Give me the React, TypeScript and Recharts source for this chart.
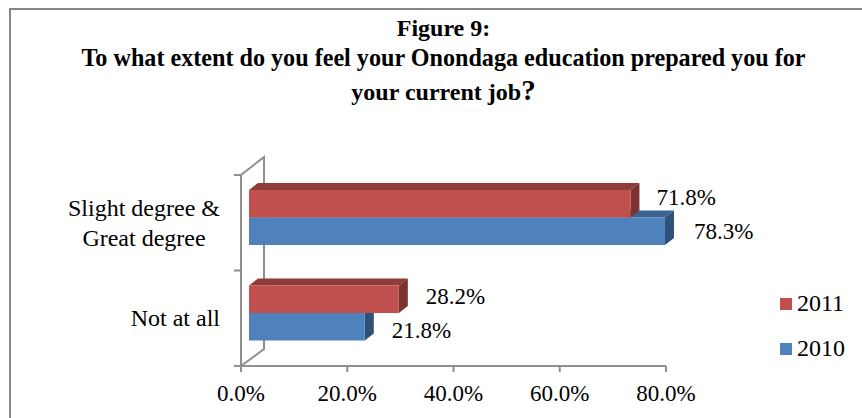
import { BarChart, Bar, XAxis, YAxis, Legend, LabelList } from 'recharts'

const CATEGORIES = ['Slight degree & Great degree', 'Not at all']
const VALUES_2011 = [71.8, 28.2]
const VALUES_2010 = [78.3, 21.8]
const X_TICKS = [0, 20, 40, 60, 80]

const chartData = CATEGORIES.map((name, i) => ({
  name,
  y2011: VALUES_2011[i],
  y2010: VALUES_2010[i],
}))

const FONT = '"Liberation Serif", "Times New Roman", serif'
const AXIS_GREY = '#8f8f8f'
const RED = { front: '#c0504d', top: '#8f3b39', side: '#7c3230' }
const BLUE = { front: '#4f81bd', top: '#3a6391', side: '#2f5179' }
const BAR_SIZE = 27.5

// how far the 3D box sits from the axis, and its depth
const SHIFT_X = 8
const SHIFT_Y = -5
const DEPTH_X = 9
const DEPTH_Y = 7

// 2010 has to paint first so 2011 covers its top face, so the two swap slots
function Box3D({ x, y, width, height, colors, slot }: any) {
  const l = x + SHIFT_X
  const t = y + SHIFT_Y + slot
  const r = l + width
  const b = t + height
  return (
    <g>
      <polygon
        points={`${l},${t} ${l + DEPTH_X},${t - DEPTH_Y} ${r + DEPTH_X},${t - DEPTH_Y} ${r},${t}`}
        fill={colors.top}
      />
      <polygon
        points={`${r},${t} ${r + DEPTH_X},${t - DEPTH_Y} ${r + DEPTH_X},${b - DEPTH_Y} ${r},${b}`}
        fill={colors.side}
      />
      <rect x={l} y={t} width={width} height={height} fill={colors.front} />
    </g>
  )
}

function ValueLabel({ x, y, width, height, value, nudge, index, slot }: any) {
  return (
    <text
      x={x + width + SHIFT_X + DEPTH_X + nudge[index][0]}
      y={y + height / 2 + SHIFT_Y + slot + nudge[index][1]}
      fontFamily={FONT}
      fontSize={23}
      fill="#000"
      dominantBaseline="central"
    >
      {`${value.toFixed(1)}%`}
    </text>
  )
}

function CategoryTick({ x, y, payload }: any) {
  const label: string = payload.value
  if (label.length < 16) {
    return (
      <text x={x} y={y} textAnchor="end" dominantBaseline="central" fontFamily={FONT} fontSize={24}>
        {label}
      </text>
    )
  }
  return (
    <text textAnchor="middle" fontFamily={FONT} fontSize={24}>
      <tspan x={x - 76} y={y - 15} dominantBaseline="central">
        Slight degree &amp;
      </tspan>
      <tspan x={x - 76} y={y + 15} dominantBaseline="central">
        Great degree
      </tspan>
    </text>
  )
}

function LegendList({ payload }: any) {
  const items = [...(payload ?? [])].sort((a, b) => Number(b.value) - Number(a.value))
  return (
    <div style={{ fontFamily: FONT, fontSize: 24, color: '#000' }}>
      {items.map((item: any) => (
        <div key={item.value} style={{ display: 'flex', alignItems: 'center', height: 45 }}>
          <span style={{ width: 12, height: 12, background: item.color, marginRight: 5 }} />
          {item.value}
        </div>
      ))}
    </div>
  )
}

export default function App() {
  return (
    <div style={{ position: 'absolute', left: 0, top: 0, width: 862, height: 418, background: '#fff' }}>
      <BarChart
        width={862}
        height={418}
        data={chartData}
        layout="vertical"
        barSize={BAR_SIZE}
        barGap={0}
        margin={{ top: 175, right: 116, bottom: 22, left: 41 }}
      >
        <rect x={10} y={9} width={870} height={430} fill="none" stroke="#868686" strokeWidth={2} />
        <text x={443.5} y={36} textAnchor="middle" fontFamily={FONT} fontSize={24} fontWeight="bold">
          Figure 9:
        </text>
        <text x={443.5} y={66} textAnchor="middle" fontFamily={FONT} fontSize={24.15} fontWeight="bold">
          To what extent do you feel your Onondaga education prepared you for
        </text>
        <text x={443.5} y={100} textAnchor="middle" fontFamily={FONT} fontSize={24} fontWeight="bold">
          your current job<tspan fontSize={29}>?</tspan>
        </text>
        {/* side wall of the 3D plot, with the ticks between categories */}
        <polyline points="241,175 264,157 264,349 241,366" fill="none" stroke={AXIS_GREY} strokeWidth={2} />
        <path d="M234,175H241M234,270.5H241M234,366H241" stroke={AXIS_GREY} strokeWidth={2} />
        <XAxis
          type="number"
          domain={[0, 80]}
          ticks={X_TICKS}
          tickFormatter={(v: number) => `${v.toFixed(1)}%`}
          tick={{ fontFamily: FONT, fontSize: 23, fill: '#000' }}
          stroke={AXIS_GREY}
          strokeWidth={2}
          tickSize={6}
          tickMargin={13}
          interval={0}
        />
        <YAxis
          type="category"
          dataKey="name"
          width={200}
          tick={<CategoryTick />}
          stroke={AXIS_GREY}
          strokeWidth={2}
          tickLine={false}
          tickMargin={15}
        />
        <Legend
          layout="vertical"
          align="right"
          verticalAlign="top"
          wrapperStyle={{ left: 780, top: 281, width: 80 }}
          content={<LegendList />}
        />
        <Bar
          dataKey="y2010"
          name="2010"
          fill={BLUE.front}
          isAnimationActive={false}
          shape={(p: any) => <Box3D {...p} colors={BLUE} slot={BAR_SIZE} />}
        >
          <LabelList
            dataKey="y2010"
            content={(p: any) => <ValueLabel {...p} slot={BAR_SIZE} nudge={[[20, 0], [18, 4]]} />}
          />
        </Bar>
        <Bar
          dataKey="y2011"
          name="2011"
          fill={RED.front}
          isAnimationActive={false}
          shape={(p: any) => <Box3D {...p} colors={RED} slot={-BAR_SIZE} />}
        >
          <LabelList
            dataKey="y2011"
            content={(p: any) => <ValueLabel {...p} slot={-BAR_SIZE} nudge={[[17, -6], [18, -3]]} />}
          />
        </Bar>
      </BarChart>
    </div>
  )
}
